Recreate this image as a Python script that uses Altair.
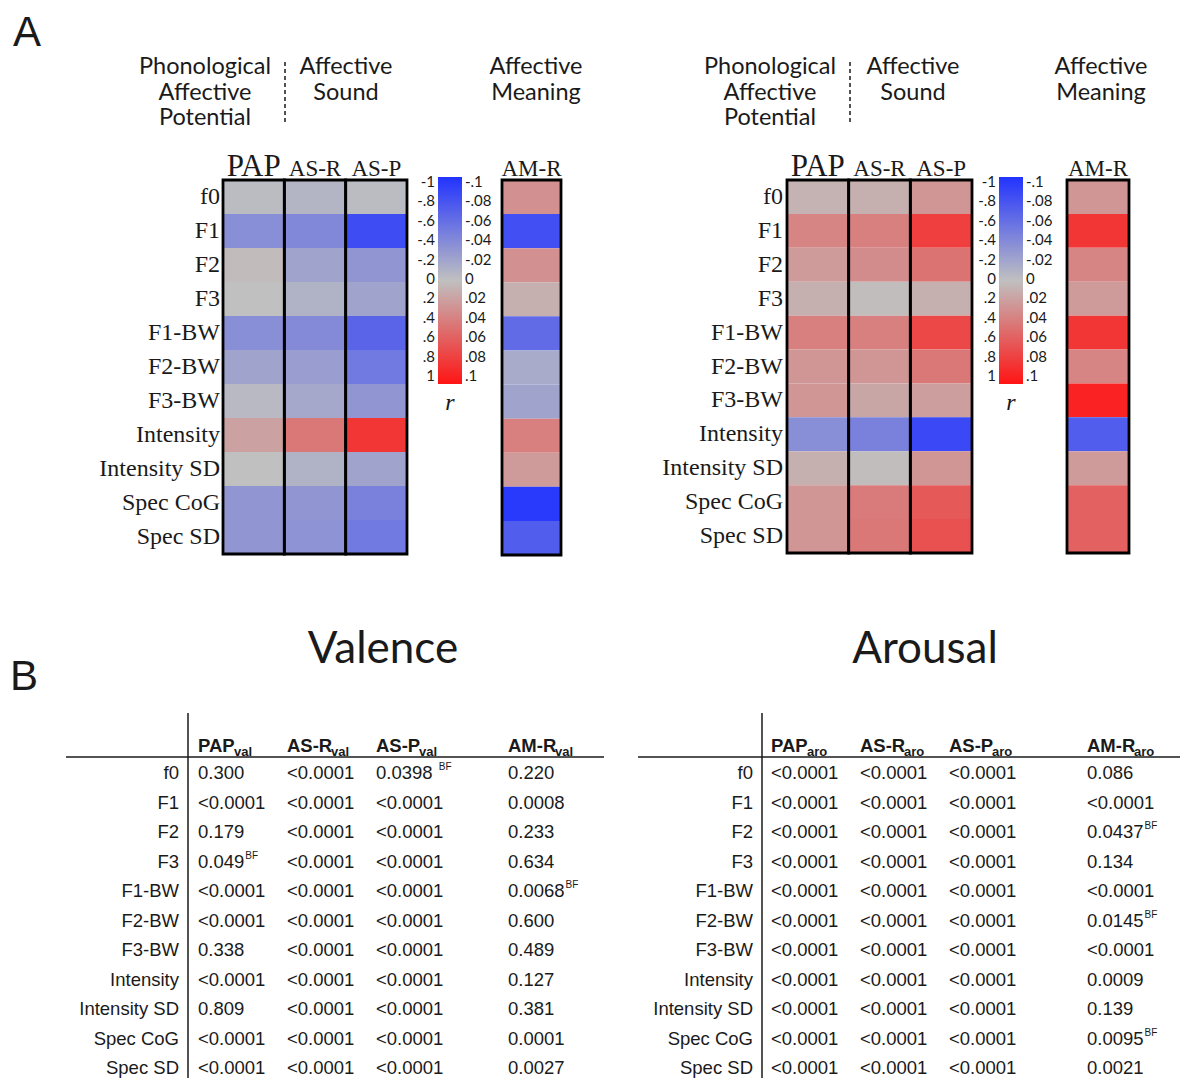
import altair as alt
import pandas as pd

# ---------------- data ----------------
ROWS = ["f0", "F1", "F2", "F3", "F1-BW", "F2-BW", "F3-BW",
        "Intensity", "Intensity SD", "Spec CoG", "Spec SD"]
HEAT_COLS = ["PAP", "AS-R", "AS-P"]

# correlation colour values (on the -1..1 colour scale)
VAL_PAP = [-0.03, -0.35, 0.03, 0.0, -0.35, -0.2, -0.05, 0.18, 0.0, -0.3, -0.3]
VAL_ASR = [-0.08, -0.4, -0.2, -0.1, -0.38, -0.25, -0.17, 0.42, -0.1, -0.3, -0.32]
VAL_ASP = [-0.03, -0.82, -0.3, -0.2, -0.65, -0.5, -0.3, 0.8, -0.2, -0.45, -0.5]
VAL_AMR = [0.28, -0.8, 0.28, 0.1, -0.6, -0.15, -0.2, 0.38, 0.22, -0.95, -0.7]
ARO_PAP = [0.08, 0.35, 0.22, 0.1, 0.38, 0.25, 0.25, -0.35, 0.1, 0.25, 0.25]
ARO_ASR = [0.1, 0.38, 0.3, 0.02, 0.38, 0.25, 0.15, -0.45, 0.02, 0.4, 0.42]
ARO_ASP = [0.25, 0.75, 0.45, 0.1, 0.7, 0.42, 0.2, -0.85, 0.25, 0.6, 0.65]
ARO_AMR = [0.25, 0.8, 0.35, 0.22, 0.8, 0.35, 0.92, -0.7, 0.22, 0.55, 0.55]

CB_POS = [-1, -0.8, -0.6, -0.4, -0.2, 0, 0.2, 0.4, 0.6, 0.8, 1]
CB_LEFT = ["-1", "-.8", "-.6", "-.4", "-.2", "0", ".2", ".4", ".6", ".8", "1"]
CB_RIGHT = ["-.1", "-.08", "-.06", "-.04", "-.02", "0", ".02", ".04", ".06", ".08", ".1"]

TABLE_COLS = ["PAP", "AS-R", "AS-P", "AM-R"]
VAL_P_PAP = ["0.300", "<0.0001", "0.179", "0.049^BF", "<0.0001", "<0.0001", "0.338",
             "<0.0001", "0.809", "<0.0001", "<0.0001"]
VAL_P_ASR = ["<0.0001", "<0.0001", "<0.0001", "<0.0001", "<0.0001", "<0.0001", "<0.0001",
             "<0.0001", "<0.0001", "<0.0001", "<0.0001"]
VAL_P_ASP = ["0.0398 ^BF", "<0.0001", "<0.0001", "<0.0001", "<0.0001", "<0.0001", "<0.0001",
             "<0.0001", "<0.0001", "<0.0001", "<0.0001"]
VAL_P_AMR = ["0.220", "0.0008", "0.233", "0.634", "0.0068^BF", "0.600", "0.489",
             "0.127", "0.381", "0.0001", "0.0027"]
ARO_P_PAP = ["<0.0001", "<0.0001", "<0.0001", "<0.0001", "<0.0001", "<0.0001", "<0.0001",
             "<0.0001", "<0.0001", "<0.0001", "<0.0001"]
ARO_P_ASR = ["<0.0001", "<0.0001", "<0.0001", "<0.0001", "<0.0001", "<0.0001", "<0.0001",
             "<0.0001", "<0.0001", "<0.0001", "<0.0001"]
ARO_P_ASP = ["<0.0001", "<0.0001", "<0.0001", "<0.0001", "<0.0001", "<0.0001", "<0.0001",
             "<0.0001", "<0.0001", "<0.0001", "<0.0001"]
ARO_P_AMR = ["0.086", "<0.0001", "0.0437^BF", "0.134", "<0.0001", "0.0145^BF", "<0.0001",
             "0.0009", "0.139", "0.0095^BF", "0.0021"]

# ---------------- style ----------------
BLUE, GRAY, RED = "#2233ff", "#c0c0c0", "#ff1414"
CSCALE = alt.Scale(domain=[-1, 0, 1], range=[BLUE, GRAY, RED], interpolate="rgb")
SERIF = "Liberation Serif"
HEAD = "Lato"
TAB = "Liberation Sans"
INK = "#1a1a1a"
ONE = pd.DataFrame({"a": [0]})


def P(v):
    """page pixel -> chart pixel (page has an 8px margin)"""
    return v - 8


def txt_width(s, size):
    w = {"<": 0.584, ".": 0.278, " ": 0.278}
    return sum(w.get(ch, 0.556) for ch in s) * size


layers = []


def text_at(x, y, s, size, font=HEAD, align="center", baseline="middle",
            weight="normal", style="normal", color=INK, line_height=None):
    kw = dict(font=font, fontSize=size, align=align, baseline=baseline,
              fontWeight=weight, fontStyle=style, color=color)
    if line_height:
        kw.update(lineBreak="\n", lineHeight=line_height)
    return alt.Chart(ONE).mark_text(**kw).encode(
        x=alt.value(P(x)), y=alt.value(P(y)), text=alt.value(s))


def rule(x, y, x2, y2, width=1.5, dash=None):
    kw = dict(color=INK, strokeWidth=width)
    if dash:
        kw["strokeDash"] = dash
    return alt.Chart(ONE).mark_rule(**kw).encode(
        x=alt.value(P(x)), x2=alt.value(P(x2)), y=alt.value(P(y)), y2=alt.value(P(y2)))


def heat(values, cols, x0, x1, y0, y1, head_y, label_x=None):
    df = pd.DataFrame([{"row": r, "col": c, "r": values[c][i]}
                       for c in cols for i, r in enumerate(ROWS)])
    xs = alt.Scale(domain=cols, range=[P(x0), P(x1)], paddingInner=0, paddingOuter=0)
    ys = alt.Scale(domain=ROWS, range=[P(y0), P(y1)], paddingInner=0, paddingOuter=0)
    out = []
    out.append(alt.Chart(df).mark_rect().encode(
        x=alt.X("col:N", scale=xs, axis=None),
        y=alt.Y("row:N", scale=ys, axis=None),
        color=alt.Color("r:Q", scale=CSCALE, legend=None)))
    cdf = pd.DataFrame({"col": cols})
    out.append(alt.Chart(cdf).mark_rect(fill="white", fillOpacity=0, stroke="black",
                                        strokeWidth=2.8).encode(
        x=alt.X("col:N", scale=xs, axis=None),
        y=alt.value(P(y0)), y2=alt.value(P(y1))))
    out.append(alt.Chart(cdf).mark_text(font=SERIF, baseline="alphabetic", color=INK).encode(
        x=alt.X("col:N", scale=xs, axis=None),
        y=alt.value(P(head_y)),
        text="col:N",
        size=alt.condition("datum.col == 'PAP'", alt.value(31), alt.value(23))))
    if label_x is not None:
        out.append(alt.Chart(pd.DataFrame({"row": ROWS})).mark_text(
            font=SERIF, fontSize=24, align="right", baseline="middle", color=INK).encode(
            x=alt.value(P(label_x)),
            y=alt.Y("row:N", scale=ys, axis=None),
            text="row:N"))
    return out


def colorbar(x0, x1, y0, y1, ly0, ly1):
    out = []
    grad = alt.Gradient(gradient="linear",
                        stops=[alt.GradientStop(color=BLUE, offset=0),
                               alt.GradientStop(color=GRAY, offset=0.5),
                               alt.GradientStop(color=RED, offset=1)],
                        x1=0, x2=0, y1=0, y2=1)
    out.append(alt.Chart(ONE).mark_rect(fill=grad).encode(
        x=alt.value(P(x0)), x2=alt.value(P(x1)), y=alt.value(P(y0)), y2=alt.value(P(y1))))
    df = pd.DataFrame({"t": CB_POS, "l": CB_LEFT, "rr": CB_RIGHT})
    ys = alt.Scale(domain=[-1, 1], range=[P(ly0), P(ly1)])
    out.append(alt.Chart(df).mark_text(font=HEAD, fontSize=15, align="right",
                                       baseline="middle", color=INK).encode(
        x=alt.value(P(x0 - 3)), y=alt.Y("t:Q", scale=ys, axis=None), text="l:N"))
    out.append(alt.Chart(df).mark_text(font=HEAD, fontSize=15, align="left",
                                       baseline="middle", color=INK).encode(
        x=alt.value(P(x1 + 3)), y=alt.Y("t:Q", scale=ys, axis=None), text="rr:N"))
    out.append(text_at((x0 + x1) / 2, 403, "r", 24, font=SERIF, style="italic"))
    return out


def table(pcols, suffix, vx, hx0, hx1, col_xs, label_right):
    out = []
    ys = alt.Scale(domain=ROWS, range=[P(758.25), P(1082.75)], paddingInner=0, paddingOuter=0)
    out.append(rule(vx, 713, vx, 1078, width=1.5))
    out.append(rule(hx0, 757, hx1, 757, width=1.5))
    out.append(alt.Chart(pd.DataFrame({"row": ROWS})).mark_text(
        font=TAB, fontSize=18.5, align="right", baseline="middle", color=INK).encode(
        x=alt.value(P(label_right)), y=alt.Y("row:N", scale=ys, axis=None), text="row:N"))
    bold_w = {"PAP": 35, "AS-R": 43, "AS-P": 42, "AM-R": 46}
    for c, cx in zip(TABLE_COLS, col_xs):
        raw = pcols[c]
        base = [s.split("^")[0] for s in raw]
        sup = [s.split("^")[1] if "^" in s else "" for s in raw]
        df = pd.DataFrame({"row": ROWS, "base": base, "sup": sup})
        out.append(alt.Chart(df).mark_text(
            font=TAB, fontSize=18.5, align="left", baseline="middle", color=INK).encode(
            x=alt.value(P(cx)), y=alt.Y("row:N", scale=ys, axis=None), text="base:N"))
        for b in sorted(set(df.loc[df["sup"] != "", "base"])):
            out.append(alt.Chart(df).transform_filter(
                alt.FieldEqualPredicate(field="base", equal=b)).mark_text(
                font=TAB, fontSize=10, align="left", baseline="middle", color=INK,
                dx=txt_width(b, 18.5) + 1, dy=-6).encode(
                x=alt.value(P(cx)), y=alt.Y("row:N", scale=ys, axis=None), text="sup:N"))
        out.append(text_at(cx, 752, c, 18.5, font=TAB, align="left",
                           baseline="alphabetic", weight="bold"))
        out.append(text_at(cx + bold_w[c] + 1, 756, suffix, 13, font=TAB, align="left",
                           baseline="alphabetic", weight="bold"))
    return out


# ---------------- panel A ----------------
layers.append(text_at(27, 46, "A", 42, font="Liberation Sans", baseline="alphabetic"))

for dash_x, phon_x, snd_x, mean_x in [(285, 205, 346, 536), (850, 770, 913, 1101)]:
    layers.append(text_at(phon_x, 67, "Phonological\nAffective\nPotential", 23.5, line_height=25.5))
    layers.append(text_at(snd_x, 67, "Affective\nSound", 23.5, line_height=25.5))
    layers.append(text_at(mean_x, 67, "Affective\nMeaning", 23.5, line_height=25.5))
    layers.append(rule(dash_x, 62, dash_x, 125, width=1.5, dash=[4, 3]))

val_heat = {"PAP": VAL_PAP, "AS-R": VAL_ASR, "AS-P": VAL_ASP}
aro_heat = {"PAP": ARO_PAP, "AS-R": ARO_ASR, "AS-P": ARO_ASP}
layers += heat(val_heat, HEAT_COLS, 223, 407, 180, 554, 176, label_x=220)
layers += heat({"AM-R": VAL_AMR}, ["AM-R"], 502, 561, 180, 555, 176)
layers += colorbar(438, 462, 177, 384, 182, 376)

layers += heat(aro_heat, HEAT_COLS, 787, 972, 180, 553, 176, label_x=783)
layers += heat({"AM-R": ARO_AMR}, ["AM-R"], 1067, 1129, 180, 553, 176)
layers += colorbar(999, 1023, 177, 384, 182, 376)

# ---------------- panel B ----------------
layers.append(text_at(24, 690, "B", 42, font="Liberation Sans", baseline="alphabetic"))
layers.append(text_at(383, 650, "Valence", 44, font=HEAD))
layers.append(text_at(925, 650, "Arousal", 44, font=HEAD))

val_p = {"PAP": VAL_P_PAP, "AS-R": VAL_P_ASR, "AS-P": VAL_P_ASP, "AM-R": VAL_P_AMR}
aro_p = {"PAP": ARO_P_PAP, "AS-R": ARO_P_ASR, "AS-P": ARO_P_ASP, "AM-R": ARO_P_AMR}
layers += table(val_p, "val", 188, 66, 604, [198, 287, 376, 508], 179)
layers += table(aro_p, "aro", 762, 638, 1180, [771, 860, 949, 1087], 753)

chart = alt.layer(*layers).resolve_scale(
    x="independent", y="independent"
).properties(
    width=1175, height=1062, autosize="none",
    padding={"left": 0, "top": 0, "right": 0, "bottom": 8},
).configure_view(stroke=None)

chart.save("out.html", embed_options={"renderer": "svg", "actions": False})
